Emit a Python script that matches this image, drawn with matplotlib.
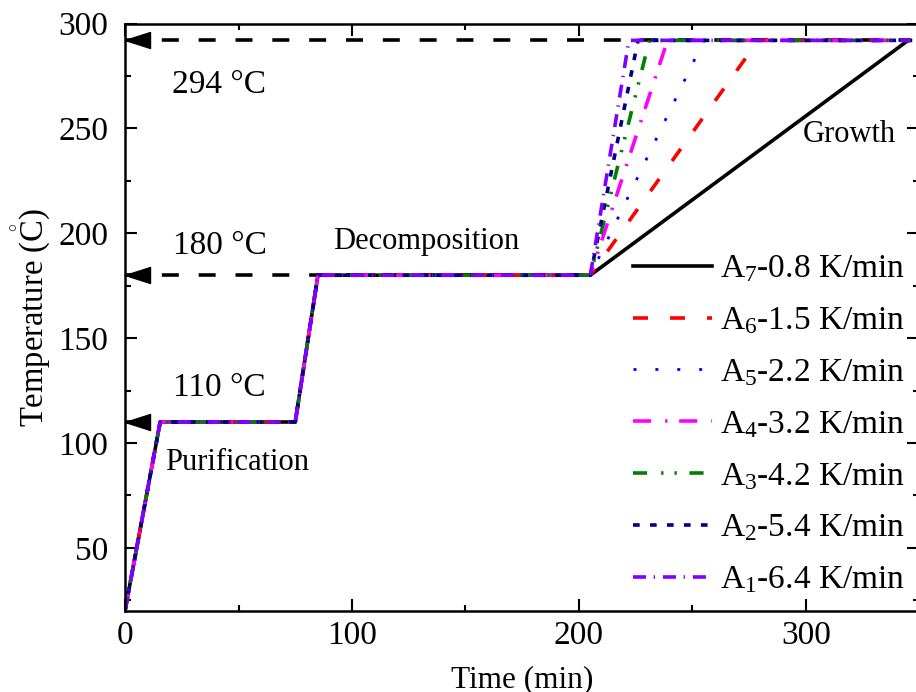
import matplotlib
matplotlib.use("Agg")
import matplotlib.pyplot as plt
from matplotlib.path import Path

plt.rcParams['font.family'] = ['Liberation Serif', 'DejaVu Serif']
plt.rcParams['mathtext.fontset'] = 'custom'
plt.rcParams['mathtext.rm'] = 'Liberation Serif'
plt.rcParams['mathtext.it'] = 'Liberation Serif:italic'
plt.rcParams['mathtext.bf'] = 'Liberation Serif:bold'

# ---- data ----
base_time = [0, 15.5, 75, 85, 205]
base_temp = [20, 110, 110, 180, 180]
plateau_temp = 292
end_time = 346
labels = [r'A$_7$-0.8 K/min', r'A$_6$-1.5 K/min', r'A$_5$-2.2 K/min',
          r'A$_4$-3.2 K/min', r'A$_3$-4.2 K/min', r'A$_2$-5.4 K/min',
          r'A$_1$-6.4 K/min']
reach_time = [345, 279, 255, 239, 231, 226, 222]   # time when 292 °C is reached
colors = ['#000000', '#ff0000', '#0000ff', '#ff00ff', '#008000', '#000080', '#8000ff']
styles = ['-', (0, (4.15, 6.1)), (0, (1.08, 6.8)), (0, (5.0, 3.9, 0.64, 3.24)),
          (0, (3.9, 3.9, 0.64, 3.05, 0.64, 3.5)), (0, (1.85, 2.85)),
          (0, (3.6, 2.13, 0.36, 2.2))]
widths = [2.6, 2.6, 2.0, 2.6, 2.6, 2.6, 2.6]

ref_temps = [292, 180, 110]
ref_ends = [346, 205, 15]
ref_texts = ['294 °C', '180 °C', '110 °C']
ref_text_pos = [(20.7, 266.8), (21, 190.1), (21, 122.5)]

stage_texts = ['Purification', 'Decomposition', 'Growth']
stage_pos = [(17.6, 87.1), (91.6, 192.5), (298.5, 243.7)]

fig = plt.figure(figsize=(9.16, 6.92), dpi=100)
ax = fig.add_axes([125/916, (692-610.7)/692, 794.5/916, (610.7-23.6)/692])

# reference dashed lines with arrowheads
arrow = Path([(0, 0), (25, 8), (25, -8), (0, 0)],
             [Path.MOVETO, Path.LINETO, Path.LINETO, Path.CLOSEPOLY])
for t, e in zip(ref_temps, ref_ends):
    ax.plot([0, e], [t, t], color='k', lw=2.6, linestyle=(0, (4.7, 5.5)), zorder=1)
    ax.plot([0], [t], marker=arrow, ms=36, color='k', clip_on=False, zorder=5)

for lab, rt, c, ls, w in zip(labels, reach_time, colors, styles, widths):
    xs = base_time + [rt, end_time]
    ys = base_temp + [plateau_temp, plateau_temp]
    ax.plot(xs, ys, color=c, linestyle=ls, lw=w, label=lab, zorder=2)

for txt, (x, y) in zip(ref_texts, ref_text_pos):
    ax.text(x, y, txt, fontsize=24, va='baseline', ha='left')
for txt, (x, y) in zip(stage_texts, stage_pos):
    ax.text(x, y, txt, fontsize=22, va='baseline', ha='left')

ax.set_xlim(0, 350)
ax.set_ylim(20, 300)
ax.set_xticks([0, 100, 200, 300])
ax.set_xticks([50, 150, 250, 350], minor=True)
ax.set_yticks([50, 100, 150, 200, 250, 300])
ax.set_yticks([25, 75, 125, 175, 225, 275], minor=True)
ax.tick_params(which='both', direction='in', top=True, right=True, width=1.5)
ax.tick_params(which='major', length=8.5)
ax.tick_params(which='minor', length=4.3)
ax.tick_params(axis='x', labelsize=24, pad=7)
ax.tick_params(axis='y', labelsize=24, pad=12)
for s in ax.spines.values():
    s.set_linewidth(1.8)

ax.set_xlabel('Time (min)', fontsize=22.5, labelpad=10)
ax.set_ylabel(r'Temperature ($\mathrm{\mathring{C}}$)', fontsize=23.5, labelpad=4)

ax.legend(loc='upper left', bbox_to_anchor=(0.639, 0.608), frameon=False,
          fontsize=24, handlelength=2.37, handletextpad=0.24, labelspacing=0.63,
          borderpad=0, borderaxespad=0)

fig.savefig('out.png', dpi=100)
